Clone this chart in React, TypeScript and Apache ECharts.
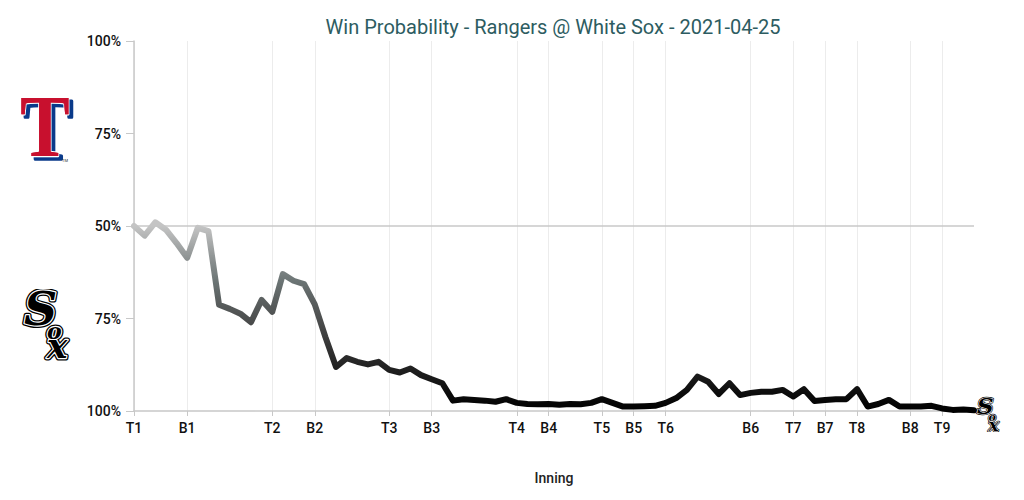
import React, { useEffect, useRef } from "react";
import * as echarts from "echarts";

const titleText = "Win Probability - Rangers @ White Sox - 2021-04-25";
const xAxisName = "Inning";

// half-inning labels and the play index where each begins
const inningLabels = ["T1", "B1", "T2", "B2", "T3", "B3", "T4", "B4", "T5", "B5", "T6", "B6", "T7", "B7", "T8", "B8", "T9"];
const inningStarts = [0, 5, 13, 17, 24, 28, 36, 39, 44, 47, 50, 58, 62, 65, 68, 73, 76];

// Rangers win probability after each play (0 = White Sox certain, 1 = Rangers certain)
const winProb = [
  0.50, 0.474, 0.51, 0.49, 0.454, 0.414, 0.495, 0.486, 0.287, 0.276,
  0.263, 0.24, 0.30, 0.268, 0.37, 0.352, 0.343, 0.288, 0.20, 0.119,
  0.143, 0.133, 0.126, 0.133, 0.111, 0.104, 0.115, 0.097, 0.086, 0.075,
  0.028, 0.032, 0.03, 0.028, 0.025, 0.032, 0.022, 0.019, 0.018, 0.019,
  0.017, 0.019, 0.018, 0.022, 0.032, 0.022, 0.012, 0.012, 0.013, 0.014,
  0.022, 0.035, 0.057, 0.093, 0.079, 0.046, 0.075, 0.043, 0.049, 0.052,
  0.052, 0.057, 0.039, 0.059, 0.027, 0.03, 0.032, 0.032, 0.059, 0.012,
  0.019, 0.03, 0.012, 0.012, 0.012, 0.014, 0.007, 0.003, 0.004, 0.002,
];

const yTicks = [0, 0.25, 0.5, 0.75, 1];

const rangersSvg =
  '<svg xmlns="http://www.w3.org/2000/svg" width="58" height="66" viewBox="0 0 58 66">' +
  '<g font-family="Liberation Serif" font-weight="bold" font-size="86" text-anchor="middle">' +
  '<text transform="translate(29.5,61) scale(0.86,1.04)" fill="#0a3a8a" stroke="#0a3a8a" stroke-width="3" stroke-linejoin="round">T</text>' +
  '<text transform="translate(26,58) scale(0.86,1.04)" fill="#c8102e" stroke="#ffffff" stroke-width="2.2" stroke-linejoin="round" paint-order="stroke">T</text>' +
  '<text transform="translate(26,58) scale(0.86,1.04)" fill="#c8102e">T</text>' +
  '</g>' +
  '<text x="43" y="64" font-family="Roboto" font-size="4" fill="#333">TM</text>' +
  '</svg>';

const soxLetters =
  '<text x="4" y="36" font-size="46">S</text>' +
  '<text x="27" y="50" font-size="22">o</text>' +
  '<text x="27" y="69" font-size="34">x</text>';

const soxSvg =
  '<svg xmlns="http://www.w3.org/2000/svg" width="56" height="72" viewBox="0 0 56 72">' +
  '<g font-family="DejaVu Serif" font-weight="bold" font-style="italic" stroke-linejoin="round">' +
  '<g stroke="#000" stroke-width="5" fill="#000">' + soxLetters + '</g>' +
  '<g stroke="#ffffff" stroke-width="2.4" fill="#000">' + soxLetters + '</g>' +
  '<g fill="#000">' + soxLetters + '</g>' +
  '</g></svg>';

const toUri = (svg: string) => "data:image/svg+xml;charset=utf-8," + encodeURIComponent(svg);

export default function App() {
  const ref = useRef<HTMLDivElement>(null);

  useEffect(() => {
    if (!ref.current) return;
    const chart = echarts.init(ref.current, undefined, { renderer: "svg" });

    const labelAt: Record<number, string> = {};
    inningStarts.forEach((s, i) => (labelAt[s] = inningLabels[i]));
    const categories = winProb.map((_, i) => (labelAt[i] !== undefined ? labelAt[i] : ""));
    const showAt = (idx: number) => labelAt[idx] !== undefined;

    const font = "Roboto";

    const option: any = {
      animation: false,
      backgroundColor: "#ffffff",
      grid: { left: 134, right: 50, top: 41, bottom: 89 },
      xAxis: {
        type: "category",
        data: categories,
        boundaryGap: false,
        name: xAxisName,
        nameLocation: "middle",
        nameGap: 60,
        nameTextStyle: { fontFamily: font, fontSize: 14, color: "#222", fontWeight: 500 },
        axisLine: { lineStyle: { color: "#c8c8c8", width: 1.5 } },
        axisTick: { interval: (i: number) => showAt(i), length: 5, lineStyle: { color: "#c8c8c8" } },
        axisLabel: {
          interval: (i: number) => showAt(i),
          margin: 10,
          fontFamily: font,
          fontSize: 14,
          fontWeight: 500,
          color: "#111",
        },
        splitLine: {
          show: true,
          interval: (i: number) => showAt(i),
          lineStyle: { color: "#ececec", width: 1 },
        },
      },
      yAxis: {
        type: "value",
        min: 0,
        max: 1,
        interval: 0.25,
        axisLine: { show: true, lineStyle: { color: "#c8c8c8", width: 1.5 } },
        axisTick: { show: true, length: 8, lineStyle: { color: "#c8c8c8" } },
        axisLabel: {
          margin: 13,
          fontFamily: font,
          fontSize: 14,
          fontWeight: 500,
          color: "#111",
          formatter: (v: number) => Math.round((v >= 0.5 ? v : 1 - v) * 100) + "%",
        },
        splitLine: { show: false },
      },
      visualMap: {
        show: false,
        type: "continuous",
        dimension: 1,
        seriesIndex: 0,
        min: 0,
        max: 0.5,
        inRange: {
          color: ["#000000", "#0d0d0d", "#1c1c1c", "#2c2c2c", "#3d3d3d", "#4d4f4f", "#5b6060", "#6b7474", "#868c8c", "#a5a8a8", "#c4c4c4"],
        },
      },
      series: [
        {
          type: "line",
          data: winProb,
          showSymbol: false,
          symbol: "none",
          lineStyle: { width: 6, join: "round", cap: "round" },
          markLine: {
            silent: true,
            symbol: "none",
            label: { show: false },
            lineStyle: { color: "#c8c8c8", type: "solid", width: 1.5 },
            data: [{ yAxis: yTicks[2] }],
            z: 1,
          },
          z: 3,
        },
      ],
      graphic: [
        {
          type: "text",
          x: 553,
          y: 27,
          style: {
            text: titleText,
            fontFamily: font,
            fontSize: 20,
            fill: "#2d5c61",
            textAlign: "center",
            textVerticalAlign: "middle",
          },
        },
        {
          type: "image",
          x: 19,
          y: 98,
          style: { image: toUri(rangersSvg), width: 58, height: 66 },
        },
        {
          type: "image",
          x: 20,
          y: 289,
          style: { image: toUri(soxSvg), width: 56, height: 72 },
        },
        {
          type: "image",
          x: 975,
          y: 396,
          style: { image: toUri(soxSvg), width: 28, height: 36 },
          z: 10,
        },
      ],
    };

    chart.setOption(option);
    return () => chart.dispose();
  }, []);

  return (
    <div
      ref={ref}
      style={{ position: "fixed", left: 0, top: 0, width: 1024, height: 500 }}
    />
  );
}
